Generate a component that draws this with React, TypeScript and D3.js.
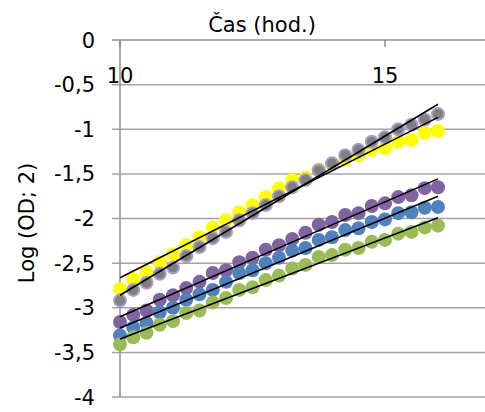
import React, { useEffect, useRef } from 'react';
import * as d3 from 'd3';

// cas v hodinach
const hodiny = [10, 10.25, 10.5, 10.75, 11, 11.25, 11.5, 11.75, 12, 12.25, 12.5, 12.75, 13,
  13.25, 13.5, 13.75, 14, 14.25, 14.5, 14.75, 15, 15.25, 15.5, 15.75, 16];

const fialova = [-3.16, -3.08, -3.03, -2.91, -2.86, -2.78, -2.71, -2.61, -2.58, -2.49, -2.44, -2.35, -2.30,
  -2.23, -2.16, -2.07, -2.04, -1.96, -1.94, -1.86, -1.83, -1.76, -1.74, -1.66, -1.65];
const modra = [-3.31, -3.22, -3.17, -3.05, -3.00, -2.91, -2.85, -2.80, -2.71, -2.61, -2.58, -2.50, -2.44,
  -2.36, -2.33, -2.24, -2.21, -2.13, -2.11, -2.04, -2.01, -1.94, -1.93, -1.88, -1.87];
const zelena = [-3.41, -3.33, -3.28, -3.19, -3.15, -3.06, -3.03, -2.94, -2.89, -2.80, -2.77, -2.69, -2.64,
  -2.56, -2.52, -2.43, -2.41, -2.35, -2.33, -2.26, -2.24, -2.17, -2.15, -2.10, -2.08];
const zluta = [-2.79, -2.68, -2.60, -2.49, -2.40, -2.30, -2.21, -2.10, -2.02, -1.93, -1.85, -1.76, -1.66,
  -1.57, -1.54, -1.45, -1.39, -1.34, -1.29, -1.23, -1.21, -1.14, -1.12, -1.04, -1.02];
const seda = [-2.92, -2.80, -2.72, -2.62, -2.55, -2.42, -2.32, -2.22, -2.15, -2.02, -1.94, -1.85, -1.75,
  -1.65, -1.57, -1.46, -1.38, -1.29, -1.23, -1.14, -1.09, -1.00, -0.95, -0.89, -0.83];

const yTicks = [0, -0.5, -1, -1.5, -2, -2.5, -3, -3.5, -4];
const xTicks = [10, 15];

export default function App() {
  const ref = useRef<SVGSVGElement>(null);

  useEffect(() => {
    const width = 485;
    const svg = d3.select(ref.current);
    svg.selectAll('*').remove();
    const font = 'DejaVu Sans, sans-serif';

    const x = d3.scaleLinear().domain([10, 17]).range([120, 491]);
    const y = d3.scaleLinear().domain([0, -4]).range([40, 397]);

    // mrizka
    svg.append('g').selectAll('line').data(yTicks.slice(1)).enter().append('line')
      .attr('x1', 112).attr('x2', width).attr('y1', d => y(d)).attr('y2', d => y(d))
      .attr('stroke', '#a3a3a3').attr('stroke-width', 1.5);

    // osy
    svg.append('line').attr('x1', 120).attr('x2', width).attr('y1', y(0)).attr('y2', y(0))
      .attr('stroke', '#8e8e8e').attr('stroke-width', 1.5);
    svg.append('line').attr('x1', 120).attr('x2', 120).attr('y1', y(0)).attr('y2', y(-4))
      .attr('stroke', '#8e8e8e').attr('stroke-width', 1.5);
    svg.append('line').attr('x1', 112).attr('x2', 120).attr('y1', y(0)).attr('y2', y(0))
      .attr('stroke', '#8e8e8e').attr('stroke-width', 1.5);
    svg.append('g').selectAll('line').data(xTicks).enter().append('line')
      .attr('x1', d => x(d)).attr('x2', d => x(d)).attr('y1', y(0)).attr('y2', y(0) + 7)
      .attr('stroke', '#8e8e8e').attr('stroke-width', 1.5);

    // popisky
    const fmt = (d: number) => (d === 0 ? '0' : String(d).replace('.', ','));
    svg.append('g').selectAll('text').data(yTicks).enter().append('text')
      .attr('x', 95).attr('y', d => y(d)).attr('dy', '0.36em')
      .attr('text-anchor', 'end').attr('font-family', font).attr('font-size', 21)
      .text(d => fmt(d));
    svg.append('g').selectAll('text').data(xTicks).enter().append('text')
      .attr('x', d => x(d)).attr('y', 83)
      .attr('text-anchor', 'middle').attr('font-family', font).attr('font-size', 21)
      .text(d => String(d));
    svg.append('text').attr('x', 262).attr('y', 32).attr('text-anchor', 'middle')
      .attr('font-family', font).attr('font-size', 21).text('Čas (hod.)');
    svg.append('text').attr('transform', 'translate(34,223) rotate(-90)').attr('text-anchor', 'middle')
      .attr('font-family', font).attr('font-size', 21).text('Log (OD; 2)');

    const serie = [
      { data: fialova, fill: '#8064a2', stroke: 'none' },
      { data: modra, fill: '#4f81bd', stroke: 'none' },
      { data: zelena, fill: '#9bbb59', stroke: 'none' },
      { data: zluta, fill: '#ffff00', stroke: 'none' },
      { data: seda, fill: '#7f7f7f', stroke: '#ab9ec8' },
    ];

    serie.forEach(s => {
      svg.append('g').selectAll('circle').data(s.data).enter().append('circle')
        .attr('cx', (d, i) => x(hodiny[i])).attr('cy', d => y(d))
        .attr('r', s.stroke === 'none' ? 7 : 6)
        .attr('fill', s.fill).attr('stroke', s.stroke).attr('stroke-width', 2);
    });

    // linearni trendy
    const line = d3.line<[number, number]>().x(d => x(d[0])).y(d => y(d[1]));
    serie.forEach(s => {
      const mx = d3.mean(hodiny) as number;
      const my = d3.mean(s.data) as number;
      let num = 0, den = 0;
      hodiny.forEach((t, i) => { num += (t - mx) * (s.data[i] - my); den += (t - mx) * (t - mx); });
      const k = num / den, q = my - k * mx;
      const pts: [number, number][] = [[10, k * 10 + q], [16, k * 16 + q]];
      svg.append('path').attr('d', line(pts)).attr('stroke', '#000').attr('stroke-width', 1.6).attr('fill', 'none');
    });
  }, []);

  return (
    <svg ref={ref} width={485} height={412} style={{ position: 'absolute', left: 0, top: 0, background: '#fff' }} />
  );
}
